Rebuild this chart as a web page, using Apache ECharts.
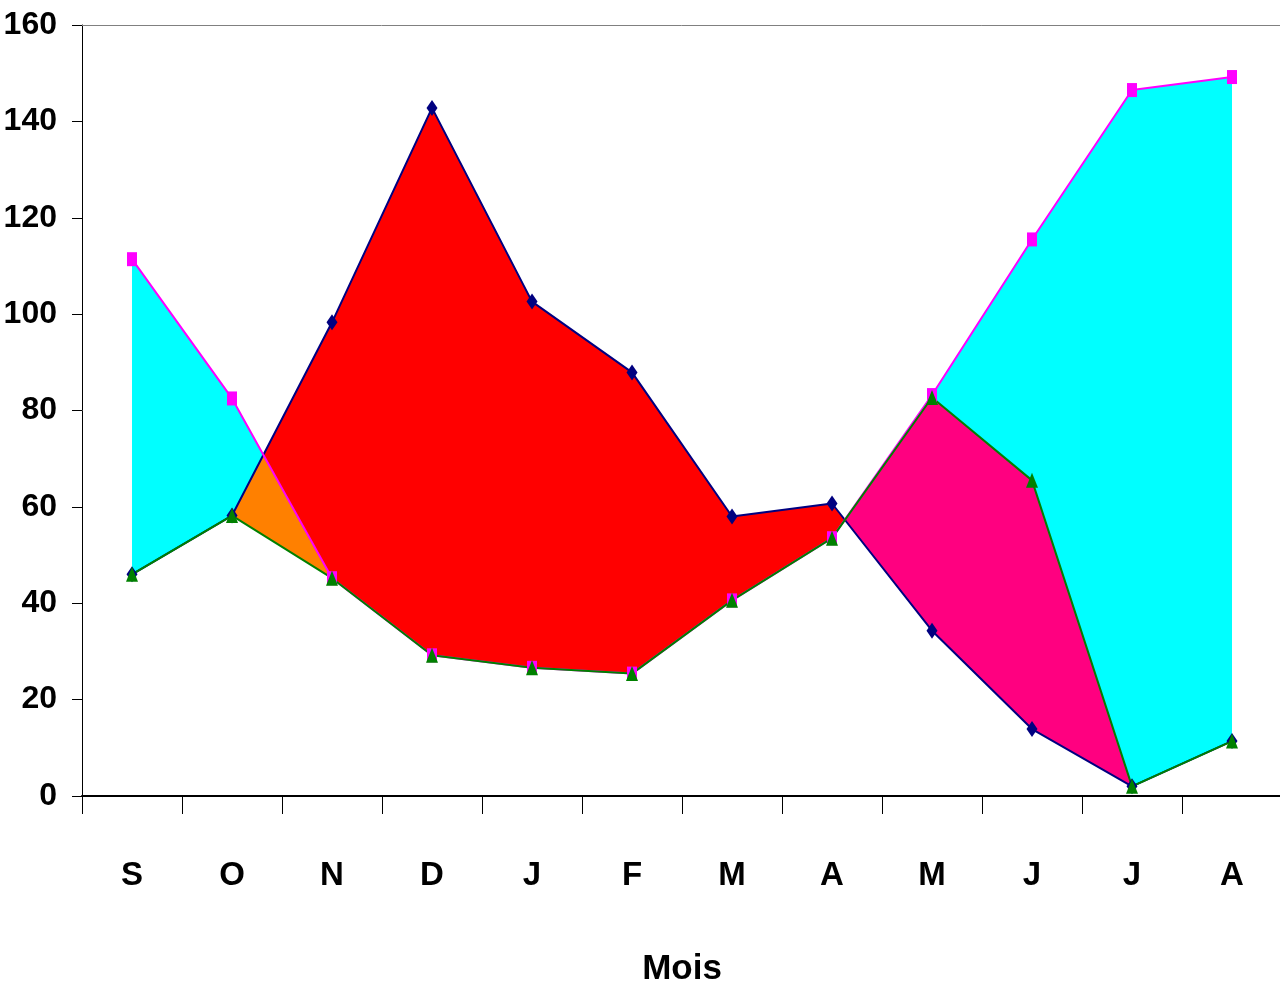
<!DOCTYPE html>
<html><head><meta charset="utf-8">
<script src="https://cdn.jsdelivr.net/npm/echarts@6/dist/echarts.min.js"></script>
<style>html,body{margin:0;padding:0;background:#fff}#c{width:1280px;height:993px}</style>
</head><body><div id="c"></div>
<script>
// Data
const months = ['S','O','N','D','J','F','M','A','M','J','J','A'];
const precip = [46, 58.2, 98.3, 142.8, 102.6, 87.9, 58, 60.7, 34.3, 13.9, 2, 11.4];        // navy diamonds
const etp    = [111.4, 82.5, 45.2, 29.2, 26.6, 25.4, 40.6, 53.5, 83.2, 115.5, 146.5, 149.2]; // magenta squares
const etr    = [46, 58.2, 45.2, 29.2, 26.6, 25.4, 40.6, 53.5, 82.7, 65.5, 2, 11.4];        // green triangles
const yTicks = [0, 20, 40, 60, 80, 100, 120, 140, 160];

const FONT = "'Liberation Sans Narrow', 'Liberation Sans', Arial, sans-serif";

// Envelope curve f(p, e, r), including the crossing points between categories
function envelope(f) {
  const S = [precip, etp, etr];
  const pts = [];
  const n = months.length;
  for (let i = 0; i < n; i++) {
    pts.push([i + 0.5, f(precip[i], etp[i], etr[i])]);
    if (i < n - 1) {
      const ts = [];
      for (let a = 0; a < 3; a++) for (let b = a + 1; b < 3; b++) {
        const d0 = S[a][i] - S[b][i], d1 = S[a][i + 1] - S[b][i + 1];
        if ((d0 < 0 && d1 > 0) || (d0 > 0 && d1 < 0)) ts.push(d0 / (d0 - d1));
      }
      ts.sort((x, y) => x - y);
      ts.forEach(t => {
        const v = S.map(s => s[i] + (s[i + 1] - s[i]) * t);
        pts.push([i + 0.5 + t, f(v[0], v[1], v[2])]);
      });
    }
  }
  return pts;
}

// Bands between envelope curves (lower, upper, colour)
const bands = [
  { lo: (p, e, r) => r, hi: (p, e, r) => Math.max(r, Math.min(e, p)), color: '#ff8000' },
  { lo: (p, e, r) => e, hi: (p, e, r) => Math.max(e, p), color: '#ff0000' },
  { lo: (p, e, r) => Math.max(r, p), hi: (p, e, r) => Math.max(e, r, p), color: '#00ffff' },
  { lo: (p, e, r) => p, hi: (p, e, r) => Math.max(p, r), color: '#ff0080' }
];

function pts(arr) { return arr.map((v, i) => [i + 0.5, v]); }

const chart = echarts.init(document.getElementById('c'), null, { renderer: 'canvas' });
chart.setOption({
  animation: false,
  backgroundColor: '#ffffff',
  grid: { left: 82, right: -2, top: 25, bottom: 197, containLabel: false, outerBoundsMode: 'none' },
  xAxis: [
    {
      type: 'category', data: months, boundaryGap: true, position: 'bottom', z: 10,
      name: 'Mois', nameLocation: 'middle', nameGap: 156,
      nameTextStyle: { fontFamily: FONT, fontWeight: 'bold', fontSize: 35, color: '#000' },
      axisLine: { show: true, lineStyle: { color: '#000', width: 2 } },
      axisTick: { show: true, length: 18, inside: false, lineStyle: { color: '#000', width: 1 } },
      axisLabel: { margin: 63, fontFamily: FONT, fontWeight: 'bold', fontSize: 33, color: '#000' },
      splitLine: { show: false }
    },
    {
      type: 'value', min: 0, max: months.length, position: 'top', z: 10,
      axisLine: { show: true, onZero: false, lineStyle: { color: '#808080', width: 1 } },
      axisTick: { show: false }, axisLabel: { show: false }, splitLine: { show: false }
    }
  ],
  yAxis: {
    type: 'value', min: yTicks[0], max: yTicks[yTicks.length - 1], interval: yTicks[1] - yTicks[0], z: 10,
    axisLine: { show: true, lineStyle: { color: '#000', width: 1 } },
    axisTick: { show: true, length: 10, inside: false, lineStyle: { color: '#000', width: 1 } },
    axisLabel: { margin: 25, fontFamily: FONT, fontWeight: 'bold', fontSize: 32, color: '#000' },
    splitLine: { show: false }
  },
  series: [
    {
      type: 'custom', xAxisIndex: 1, z: 1, silent: true,
      data: bands.map((b, i) => [i + 0.5, 0]),
      renderItem: function (params, api) {
        const b = bands[params.dataIndex];
        const top = envelope(b.hi).map(p => api.coord(p));
        const bot = envelope(b.lo).reverse().map(p => api.coord(p));
        return {
          type: 'polygon', silent: true,
          shape: { points: top.concat(bot) },
          style: { fill: b.color, stroke: null }
        };
      }
    },
    {
      type: 'line', xAxisIndex: 1, data: pts(precip), z: 3,
      lineStyle: { color: '#000080', width: 2 },
      itemStyle: { color: '#000080' }, symbol: 'diamond', symbolSize: [11, 16], showSymbol: true
    },
    {
      type: 'line', xAxisIndex: 1, data: pts(etp), z: 3,
      lineStyle: { color: '#ff00ff', width: 2 },
      itemStyle: { color: '#ff00ff' }, symbol: 'rect', symbolSize: [10, 14], showSymbol: true
    },
    {
      type: 'line', xAxisIndex: 1, data: pts(etr), z: 3,
      lineStyle: { color: '#008000', width: 2 },
      itemStyle: { color: '#008000' }, symbol: 'triangle', symbolSize: [12, 15], showSymbol: true
    }
  ]
});
</script>
</body></html>
